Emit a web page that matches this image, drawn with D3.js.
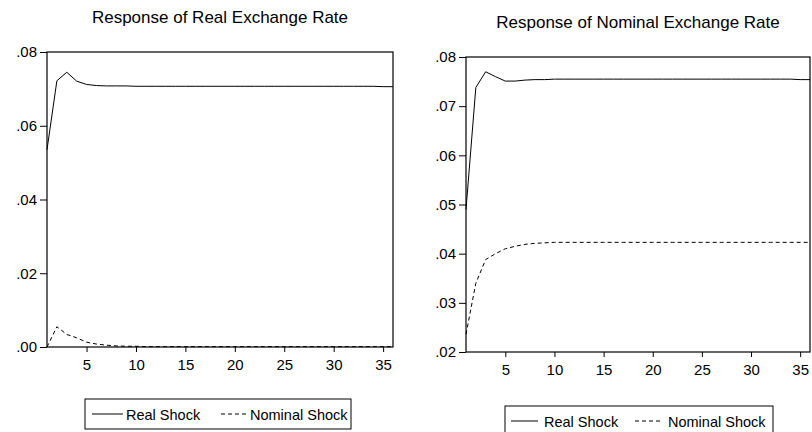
<!DOCTYPE html>
<html>
<head>
<meta charset="utf-8">
<script src="https://cdn.jsdelivr.net/npm/d3@7"></script>
<style>
  body { margin: 0; background: #fff; }
  svg { display: block; font-family: Arial, "Liberation Sans", sans-serif; }
</style>
</head>
<body>
<svg id="chart" width="812" height="432"></svg>
<script>
// periods 1..36
const periods = d3.range(1, 37);
const xTicks = [5, 10, 15, 20, 25, 30, 35];

// Response of Real Exchange Rate
const realRealShock = [0.0535, 0.0722, 0.0745, 0.0721, 0.0712, 0.0709, 0.0708, 0.0708, 0.0708, 0.0707,
  0.0707, 0.0707, 0.0707, 0.0707, 0.0707, 0.0707, 0.0707, 0.0707, 0.0707, 0.0707,
  0.0707, 0.0707, 0.0707, 0.0707, 0.0707, 0.0707, 0.0707, 0.0707, 0.0707, 0.0707,
  0.0707, 0.0707, 0.0707, 0.0707, 0.0706, 0.0706];
const realNominalShock = [0.0000, 0.0055, 0.0034, 0.0025, 0.0013, 0.0008, 0.0005, 0.0003, 0.0002, 0.0002,
  0.0001, 0.0001, 0.0001, 0.0001, 0.0001, 0.0001, 0.0001, 0.0001, 0.0001, 0.0001,
  0.0001, 0.0001, 0.0001, 0.0001, 0.0001, 0.0001, 0.0001, 0.0001, 0.0001, 0.0001,
  0.0001, 0.0001, 0.0001, 0.0001, 0.0001, 0.0001];
const realYTicks = [0, 0.02, 0.04, 0.06, 0.08];

// Response of Nominal Exchange Rate
const nomRealShock = [0.0490, 0.0738, 0.0770, 0.0760, 0.0751, 0.0751, 0.0753, 0.0754, 0.0754, 0.0755,
  0.0755, 0.0755, 0.0755, 0.0755, 0.0755, 0.0755, 0.0755, 0.0755, 0.0755, 0.0755,
  0.0755, 0.0755, 0.0755, 0.0755, 0.0755, 0.0755, 0.0755, 0.0755, 0.0755, 0.0755,
  0.0755, 0.0755, 0.0755, 0.0755, 0.0754, 0.0754];
const nomNominalShock = [0.0236, 0.0340, 0.0388, 0.0400, 0.0410, 0.0415, 0.0419, 0.0421, 0.0422, 0.0423,
  0.0423, 0.0423, 0.0423, 0.0423, 0.0423, 0.0423, 0.0423, 0.0423, 0.0423, 0.0423,
  0.0423, 0.0423, 0.0423, 0.0423, 0.0423, 0.0423, 0.0423, 0.0423, 0.0423, 0.0423,
  0.0423, 0.0423, 0.0423, 0.0423, 0.0423, 0.0423];
const nomYTicks = [0.02, 0.03, 0.04, 0.05, 0.06, 0.07, 0.08];

const seriesNames = ["Real Shock", "Nominal Shock"];

const svg = d3.select("#chart");
const fmt = d => d === 0 ? ".00" : d3.format(".2f")(d).replace(/^0/, "");

function panel(cfg) {
  const x = d3.scaleLinear().domain([1, 36]).range([cfg.left, cfg.right]);
  const y = d3.scaleLinear().domain(cfg.yDomain).range([cfg.bottom, cfg.top]);
  const g = svg.append("g");

  g.append("text")
    .attr("x", (cfg.left + cfg.right) / 2).attr("y", cfg.titleY)
    .attr("text-anchor", "middle")
    .style("font-size", "17px")
    .text(cfg.title);

  // y axis
  const ya = g.append("g")
    .attr("transform", `translate(${cfg.left},0)`)
    .call(d3.axisLeft(y).tickValues(cfg.yTicks).tickFormat(fmt).tickSize(7).tickPadding(3));
  ya.select(".domain").remove();
  ya.selectAll("text").style("font-size", "15px").attr("fill", "#000");

  // x axis
  const xa = g.append("g")
    .attr("transform", `translate(0,${cfg.bottom})`)
    .call(d3.axisBottom(x).tickValues(xTicks).tickSize(5).tickPadding(7));
  xa.select(".domain").remove();
  xa.selectAll("text").style("font-size", "15px").attr("fill", "#000");

  // frame
  g.append("rect")
    .attr("x", cfg.left).attr("y", cfg.top)
    .attr("width", cfg.right - cfg.left).attr("height", cfg.bottom - cfg.top)
    .attr("fill", "none").attr("stroke", "#000").attr("stroke-width", 1.2);

  const line = d3.line().x((d, i) => x(periods[i])).y(d => y(d));
  g.append("path").datum(cfg.real)
    .attr("d", line).attr("fill", "none").attr("stroke", "#000").attr("stroke-width", 1);
  g.append("path").datum(cfg.nominal)
    .attr("d", line).attr("fill", "none").attr("stroke", "#000").attr("stroke-width", 1)
    .attr("stroke-dasharray", "4,3");

  // legend
  const L = cfg.leg;
  const lg = g.append("g").attr("transform", `translate(${L.x},${L.y})`);
  lg.append("rect").attr("width", L.w).attr("height", 30)
    .attr("fill", "#fff").attr("stroke", "#000").attr("stroke-width", 1);
  lg.append("line").attr("x1", L.s0).attr("x2", L.s1).attr("y1", 15).attr("y2", 15)
    .attr("stroke", "#000");
  lg.append("text").attr("x", L.t0).attr("y", 20.5).style("font-size", "14.5px").text(seriesNames[0]);
  lg.append("line").attr("x1", L.d0).attr("x2", L.d1).attr("y1", 15).attr("y2", 15)
    .attr("stroke", "#000").attr("stroke-dasharray", "4,3");
  lg.append("text").attr("x", L.t1).attr("y", 20.5).style("font-size", "14.5px").text(seriesNames[1]);
}

panel({
  title: "Response of Real Exchange Rate", titleY: 23,
  left: 47, right: 393, top: 52, bottom: 347,
  yDomain: [0, 0.08], yTicks: realYTicks,
  real: realRealShock, nominal: realNominalShock,
  leg: { x: 85, y: 399, w: 266, s0: 7, s1: 38, t0: 41, d0: 136, d1: 161, t1: 165 }
});

panel({
  title: "Response of Nominal Exchange Rate", titleY: 28,
  left: 466, right: 810, top: 57, bottom: 352,
  yDomain: [0.02, 0.08], yTicks: nomYTicks,
  real: nomRealShock, nominal: nomNominalShock,
  leg: { x: 505, y: 406, w: 268, s0: 6, s1: 33, t0: 39, d0: 130, d1: 158, t1: 163 }
});
</script>
</body>
</html>
